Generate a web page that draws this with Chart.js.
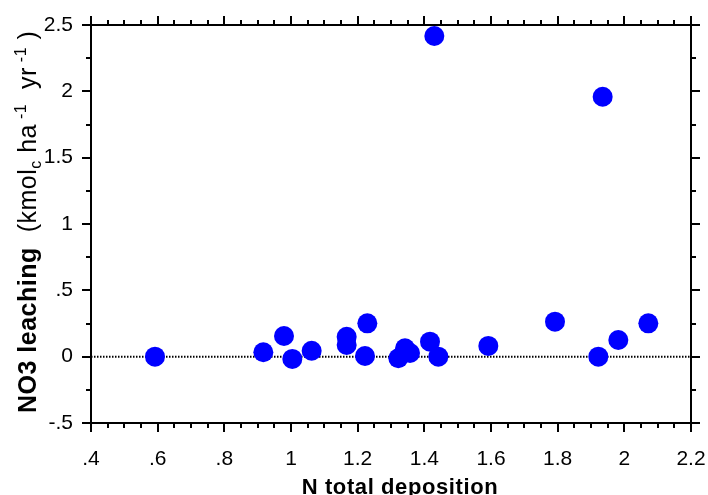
<!DOCTYPE html>
<html>
<head>
<meta charset="utf-8">
<script src="https://cdn.jsdelivr.net/npm/chart.js@4"></script>
<style>
html,body{margin:0;padding:0;background:#fff;}
#wrap{width:708px;height:495px;position:relative;}
</style>
</head>
<body>
<div id="wrap"><canvas id="c" width="708" height="495"></canvas></div>
<script>
// ---- data ----
const nDeposition = [0.592, 0.917, 0.979, 1.004, 1.062, 1.167, 1.167, 1.229, 1.222, 1.322, 1.342, 1.357, 1.417, 1.442, 1.592, 1.792, 1.922, 1.982, 2.072, 1.430, 1.935];
const no3Leaching = [0.000, 0.033, 0.156, -0.017, 0.045, 0.150, 0.088, 0.251, 0.005, -0.012, 0.063, 0.028, 0.113, 0.000, 0.081, 0.264, 0.000, 0.126, 0.251, 2.417, 1.959];
const xRange = [0.4, 2.2];
const yRange = [-0.5, 2.5];
const xTitle = "N total deposition";
const yTitleBold = "NO3 leaching";

const points = nDeposition.map((x, i) => ({x: x, y: no3Leaching[i]}));

function fmt(v) {
  let s = Number(v.toFixed(2)).toString();
  return s.replace(/^0\./, '.').replace(/^-0\./, '-.');
}

const FONT = "'Liberation Sans', Arial, Helvetica, sans-serif";

const decor = {
  id: 'decor',
  beforeDatasetsDraw(chart) {
    const {ctx, chartArea: a, scales: {x, y}} = chart;
    const y0 = y.getPixelForValue(0);
    ctx.save();
    ctx.strokeStyle = '#000';
    ctx.lineWidth = 2;
    ctx.setLineDash([1.5, 1.5]);
    ctx.beginPath();
    ctx.moveTo(a.left, y0);
    ctx.lineTo(a.right, y0);
    ctx.stroke();
    ctx.restore();
  },
  afterDatasetsDraw(chart) {
    const {ctx, chartArea: a, scales: {x, y}} = chart;
    ctx.save();
    ctx.strokeStyle = '#000';
    ctx.lineWidth = 2;
    ctx.lineCap = 'butt';
    ctx.beginPath();
    ctx.rect(a.left, a.top, a.right - a.left, a.bottom - a.top);
    ctx.stroke();
    ctx.beginPath();
    // x ticks every 0.05, major every 0.2
    const nx = Math.round((xRange[1] - xRange[0]) / 0.05);
    for (let i = 0; i <= nx; i++) {
      const v = xRange[0] + i * 0.05;
      const px = Math.round(x.getPixelForValue(v));
      const len = (i % 4 === 0) ? 9 : 5;
      ctx.moveTo(px, a.bottom); ctx.lineTo(px, a.bottom + len);
      ctx.moveTo(px, a.top); ctx.lineTo(px, a.top - len);
    }
    const ny = Math.round((yRange[1] - yRange[0]) / 0.25);
    for (let i = 0; i <= ny; i++) {
      const v = yRange[0] + i * 0.25;
      const py = Math.round(y.getPixelForValue(v));
      const len = (i % 2 === 0) ? 9 : 5;
      ctx.moveTo(a.left, py); ctx.lineTo(a.left - len, py);
      ctx.moveTo(a.right, py); ctx.lineTo(a.right + len, py);
    }
    ctx.stroke();

    // x title
    ctx.fillStyle = '#000';
    ctx.font = "bold 22px " + FONT;
    try { ctx.letterSpacing = '0.6px'; } catch (e) {}
    ctx.textAlign = 'center';
    ctx.textBaseline = 'alphabetic';
    ctx.fillText(xTitle, (a.left + a.right) / 2 + 9, 494);

    // y title (rotated, with sub/superscripts)
    ctx.translate(36, 413);
    ctx.rotate(-Math.PI / 2);
    ctx.textAlign = 'left';
    let cx = 0;
    const seg = (t, font, dy, ls) => {
      ctx.font = font;
      try { ctx.letterSpacing = ls || '0px'; } catch (e) {}
      ctx.fillText(t, cx, dy);
      cx += ctx.measureText(t).width;
    };
    seg(yTitleBold, "bold 25px " + FONT, 0, '0.5px');
    seg("  (kmol", "25px " + FONT, 0, '0.5px');
    seg("c", "16px " + FONT, 5, '0.5px');
    seg(" ha", "25px " + FONT, 0, '0.5px');
    seg(" -1", "16px " + FONT, -10, '0.5px');
    seg("  yr", "25px " + FONT, 0, '0.5px');
    seg(" -1", "16px " + FONT, -10, '0.5px');
    seg(" )", "25px " + FONT, 0, '0.5px');
    ctx.restore();
  }
};

new Chart(document.getElementById('c'), {
  type: 'scatter',
  data: {
    datasets: [{
      data: points,
      backgroundColor: '#0000ff',
      borderColor: '#0000ff',
      borderWidth: 0,
      pointRadius: 10,
      pointHoverRadius: 10
    }]
  },
  options: {
    responsive: false,
    animation: false,
    events: [],
    layout: {padding: {left: 0, right: 17, top: 25, bottom: 0}},
    plugins: {legend: {display: false}, tooltip: {enabled: false}},
    scales: {
      x: {
        type: 'linear',
        min: xRange[0], max: xRange[1],
        grid: {display: false, drawTicks: false},
        border: {display: false},
        ticks: {
          stepSize: 0.2,
          padding: 24,
          color: '#000',
          font: {family: FONT, size: 21},
          maxRotation: 0,
          autoSkip: false,
          callback: (v) => fmt(v)
        },
        afterFit(s) { s.height = 72; s.paddingLeft = 0; s.paddingRight = 0; }
      },
      y: {
        type: 'linear',
        min: yRange[0], max: yRange[1],
        grid: {display: false, drawTicks: false},
        border: {display: false},
        ticks: {
          stepSize: 0.5,
          padding: 18,
          color: '#000',
          font: {family: FONT, size: 21},
          callback: (v) => fmt(v)
        },
        afterFit(s) { s.width = 91; s.paddingTop = 0; s.paddingBottom = 0; }
      }
    }
  },
  plugins: [decor]
});
</script>
</body>
</html>
